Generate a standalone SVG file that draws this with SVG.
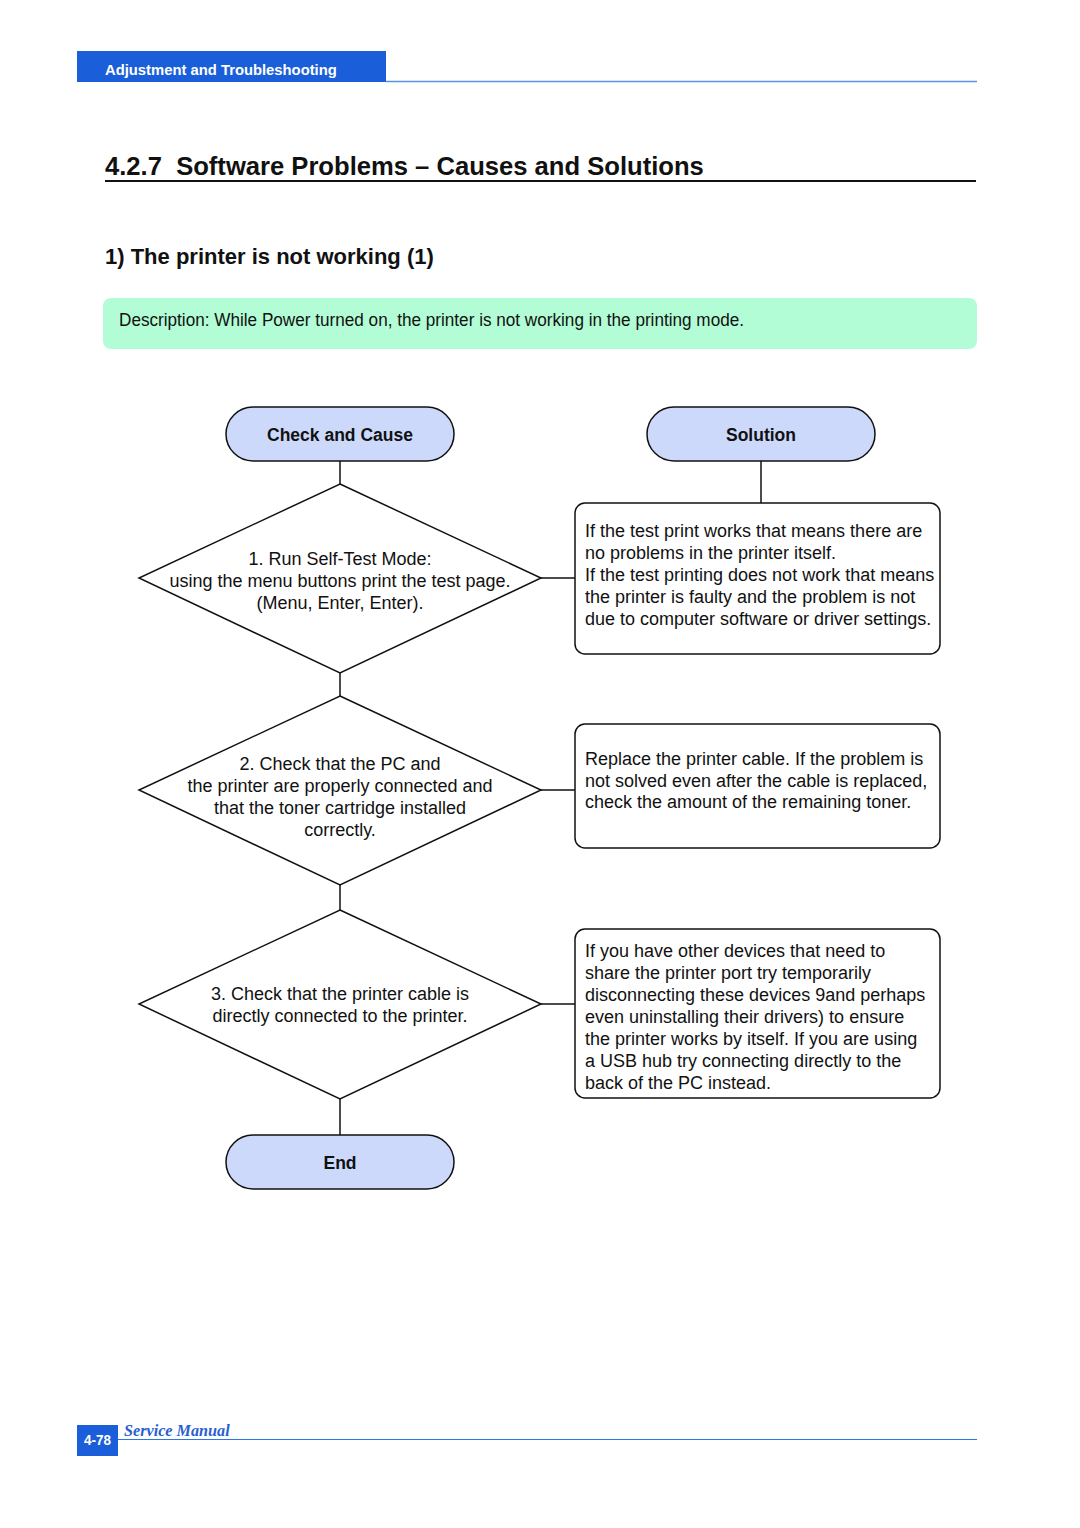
<svg xmlns="http://www.w3.org/2000/svg" width="1080" height="1528" viewBox="0 0 1080 1528">
<style>
.t{font-family:"Liberation Sans",Arial,sans-serif;font-size:18px;fill:#111}
.c{text-anchor:middle}
.b{font-weight:bold}
.p{font-size:17.5px}
.pill{fill:#cdd9fb;stroke:#111;stroke-width:1.5}
.box{fill:#fff;stroke:#111;stroke-width:1.5}
.dia{fill:#fff;stroke:#111;stroke-width:1.5}
.ln{stroke:#111;stroke-width:1.5;fill:none}
</style>
<rect width="1080" height="1528" fill="#fff"/>
<g id="header">
<rect x="77" y="51" width="309" height="31" fill="#1a5fd9"/>
<line x1="386" y1="81.5" x2="977" y2="81.5" stroke="#5b92e6" stroke-width="1.5"/>
<text x="105" y="75" class="t b" style="fill:#fff;font-size:14.8px">Adjustment and Troubleshooting</text>
</g>
<g id="title">
<text x="105" y="175" class="t b" style="font-size:25.6px" xml:space="preserve">4.2.7  Software Problems – Causes and Solutions</text>
<line x1="105" y1="181" x2="976" y2="181" stroke="#111" stroke-width="2"/>
<text x="105" y="264" class="t b" style="font-size:22px">1) The printer is not working (1)</text>
</g>
<g id="description">
<rect x="103" y="298" width="874" height="51" rx="8" fill="#b2fdd5"/>
<text x="119" y="326" class="t" style="font-size:17.5px" textLength="625" lengthAdjust="spacingAndGlyphs">Description: While Power turned on, the printer is not working in the printing mode.</text>
</g>
<g id="connectors">
<line class="ln" x1="340" y1="461" x2="340" y2="484"/>
<line class="ln" x1="761" y1="461" x2="761" y2="503"/>
<line class="ln" x1="541" y1="578" x2="575" y2="578"/>
<line class="ln" x1="340" y1="673" x2="340" y2="696"/>
<line class="ln" x1="541" y1="790" x2="575" y2="790"/>
<line class="ln" x1="340" y1="885" x2="340" y2="910"/>
<line class="ln" x1="541" y1="1004" x2="575" y2="1004"/>
<line class="ln" x1="340" y1="1099" x2="340" y2="1135"/>
</g>
<g id="check-and-cause">
<rect class="pill" x="226" y="407" width="228" height="54" rx="27"/>
<text x="340" y="441" class="t b c p">Check and Cause</text>
</g>
<g id="solution">
<rect class="pill" x="647" y="407" width="228" height="54" rx="27"/>
<text x="761" y="441" class="t b c p">Solution</text>
</g>
<g id="step1">
<polygon class="dia" points="340,484 541,578 340,673 139,578"/>
<text class="t c"><tspan x="340" y="565">1. Run Self-Test Mode:</tspan><tspan x="340" y="587">using the menu buttons print the test page.</tspan><tspan x="340" y="609">(Menu, Enter, Enter).</tspan></text>
</g>
<g id="solution1">
<rect class="box" x="575" y="503" width="365" height="151" rx="10"/>
<text class="t"><tspan x="585" y="537">If the test print works that means there are</tspan><tspan x="585" y="559">no problems in the printer itself.</tspan><tspan x="585" y="581">If the test printing does not work that means</tspan><tspan x="585" y="603">the printer is faulty and the problem is not</tspan><tspan x="585" y="625">due to computer software or driver settings.</tspan></text>
</g>
<g id="step2">
<polygon class="dia" points="340,696 541,790 340,885 139,790"/>
<text class="t c"><tspan x="340" y="770">2. Check that the PC and</tspan><tspan x="340" y="792">the printer are properly connected and</tspan><tspan x="340" y="814">that the toner cartridge installed</tspan><tspan x="340" y="836">correctly.</tspan></text>
</g>
<g id="solution2">
<rect class="box" x="575" y="724" width="365" height="124" rx="10"/>
<text class="t"><tspan x="585" y="765">Replace the printer cable. If the problem is</tspan><tspan x="585" y="787">not solved even after the cable is replaced,</tspan><tspan x="585" y="808">check the amount of the remaining toner.</tspan></text>
</g>
<g id="step3">
<polygon class="dia" points="340,910 541,1004 340,1099 139,1004"/>
<text class="t c"><tspan x="340" y="1000">3. Check that the printer cable is</tspan><tspan x="340" y="1022">directly connected to the printer.</tspan></text>
</g>
<g id="solution3">
<rect class="box" x="575" y="929" width="365" height="169" rx="10"/>
<text class="t"><tspan x="585" y="957">If you have other devices that need to</tspan><tspan x="585" y="979">share the printer port try temporarily</tspan><tspan x="585" y="1001">disconnecting these devices 9and perhaps</tspan><tspan x="585" y="1023">even uninstalling their drivers) to ensure</tspan><tspan x="585" y="1045">the printer works by itself. If you are using</tspan><tspan x="585" y="1067">a USB hub try connecting directly to the</tspan><tspan x="585" y="1089">back of the PC instead.</tspan></text>
</g>
<g id="end">
<rect class="pill" x="226" y="1135" width="228" height="54" rx="27"/>
<text x="340" y="1169" class="t b c p">End</text>
</g>
<g id="footer">
<rect x="77" y="1425" width="41" height="31" fill="#1a5fd9"/>
<line x1="118" y1="1439.5" x2="977" y2="1439.5" stroke="#2d78e0" stroke-width="1.2"/>
<text x="97.5" y="1445" class="t b c" style="fill:#fff;font-size:14px" textLength="27" lengthAdjust="spacingAndGlyphs">4-78</text>
<text x="124" y="1436" style="font-family:'Liberation Serif',serif;font-style:italic;font-weight:bold;font-size:16.2px;fill:#2a5fd0">Service Manual</text>
</g>
</svg>
